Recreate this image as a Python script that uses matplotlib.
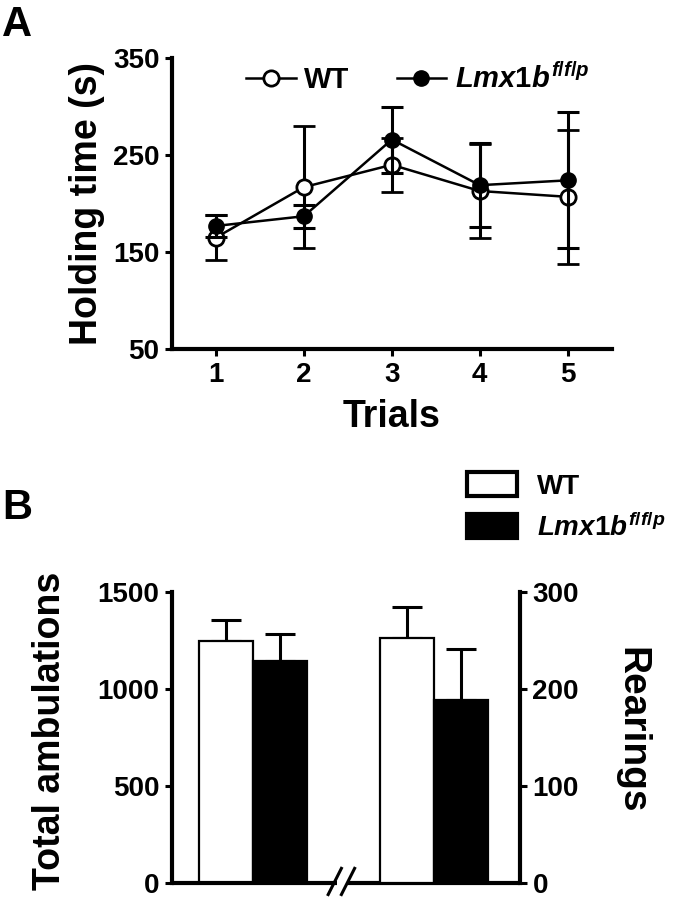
import numpy as np
import matplotlib.pyplot as plt
from matplotlib.patches import Patch
from matplotlib.lines import Line2D

plt.rcParams['font.family'] = ['Liberation Sans', 'DejaVu Sans']
plt.rcParams['font.weight'] = 'bold'
plt.rcParams['mathtext.fontset'] = 'custom'
plt.rcParams['mathtext.rm'] = 'Liberation Sans:bold'
plt.rcParams['mathtext.it'] = 'Liberation Sans:bold:italic'

# Panel A: holding time per trial (mean +/- SEM)
trials = [1, 2, 3, 4, 5]
wt_hold = [165, 217, 240, 213, 207]
wt_hold_err = [23, 63, 28, 48, 69]
ko_hold = [177, 187, 266, 219, 224]
ko_hold_err = [11, 12, 34, 43, 70]

# Panel B: open field
amb_vals = [1250, 1145]      # WT, KO total ambulations
amb_err = [106, 139]
rear_vals = [253, 189]       # WT, KO rearings
rear_err = [32, 52]

ko_label = r'$\mathit{Lmx1b}^{\mathit{f/f/p}}$'
lw_axis = 3.0
tick_fs = 20

fig = plt.figure(figsize=(6.85, 9), dpi=100)

# ---------- A ----------
axA = fig.add_axes([0.251, 0.612, 0.642, 0.3235])
axA.errorbar(trials, wt_hold, yerr=wt_hold_err, fmt='-o', color='black',
             mfc='white', mec='black', mew=2, ms=11, lw=1.8,
             elinewidth=2.2, capsize=8, capthick=2.2, zorder=3)
axA.errorbar(trials, ko_hold, yerr=ko_hold_err, fmt='-o', color='black',
             mfc='black', mec='black', ms=11, lw=1.8,
             elinewidth=2.2, capsize=8, capthick=2.2, zorder=4)
axA.set_xlim(0.5, 5.5)
axA.set_ylim(50, 350)
axA.set_xticks(trials)
axA.set_yticks([50, 150, 250, 350])
axA.set_xlabel('Trials', fontsize=27, fontweight='bold', labelpad=8)
axA.set_ylabel('Holding time (s)', fontsize=27, fontweight='bold', labelpad=6)
for s in ['top', 'right']:
    axA.spines[s].set_visible(False)
for s in ['left', 'bottom']:
    axA.spines[s].set_linewidth(lw_axis)
axA.tick_params(width=2.2, length=5, labelsize=tick_fs, pad=4)

hA = [Line2D([], [], color='black', marker='o', mfc='white', mec='black',
             mew=2, ms=11, lw=1.8),
      Line2D([], [], color='black', marker='o', mfc='black', ms=11, lw=1.8)]
fig.legend(hA, ['WT', ko_label], loc='center', bbox_to_anchor=(0.61, 0.912),
           ncol=2, frameon=False, fontsize=21, handlelength=1.7,
           handletextpad=0.3, columnspacing=1.6)

fig.text(0.003, 0.995, 'A', fontsize=30, fontweight='bold', va='top', ha='left')

# ---------- B ----------
axB = fig.add_axes([0.251, 0.019, 0.508, 0.323])
axB.set_xlim(0, 6.45)
axB.set_ylim(0, 1500)
axB.bar([1, 2], amb_vals, width=1.0, color=['white', 'black'],
        edgecolor='black', linewidth=1.6, zorder=3)
axB.errorbar([1, 2], amb_vals, yerr=[[0, 0], amb_err], fmt='none',
             ecolor='black', elinewidth=2.2, capsize=11, capthick=2.2, zorder=2)

axR = axB.twinx()
axR.set_ylim(0, 300)
axR.bar([4.35, 5.35], rear_vals, width=1.0, color=['white', 'black'],
        edgecolor='black', linewidth=1.6, zorder=3)
axR.errorbar([4.35, 5.35], rear_vals, yerr=[[0, 0], rear_err], fmt='none',
             ecolor='black', elinewidth=2.2, capsize=11, capthick=2.2, zorder=2)

axB.set_xticks([])
axB.set_yticks([0, 500, 1000, 1500])
axR.set_yticks([0, 100, 200, 300])
for a in (axB, axR):
    a.spines['top'].set_visible(False)
    a.spines['bottom'].set_visible(False)
    a.tick_params(width=2.2, length=5, labelsize=tick_fs, pad=4)
axB.spines['right'].set_visible(False)
axR.spines['left'].set_visible(False)
axB.spines['left'].set_linewidth(lw_axis)
axR.spines['right'].set_linewidth(lw_axis)

# broken x axis
axB.plot([0, 0.474], [0, 0], transform=axB.transAxes, color='black',
         lw=lw_axis, clip_on=False, solid_capstyle='butt', zorder=5)
axB.plot([0.503, 1], [0, 0], transform=axB.transAxes, color='black',
         lw=lw_axis, clip_on=False, solid_capstyle='butt', zorder=5)
for x0 in (0.449, 0.487):
    axB.plot([x0, x0 + 0.038], [-0.04, 0.05], transform=axB.transAxes,
             color='black', lw=2.2, clip_on=False, zorder=5)

axB.set_ylabel('Total ambulations', fontsize=27, fontweight='bold')
axB.yaxis.set_label_coords(-0.30, 0.524)
axR.set_ylabel('Rearings', fontsize=28, fontweight='bold', rotation=270,
               va='bottom')
axR.yaxis.set_label_coords(1.27, 0.524)

hB = [Patch(facecolor='white', edgecolor='black', linewidth=3),
      Patch(facecolor='black', edgecolor='black', linewidth=3)]
fig.legend(hB, ['WT', ko_label], loc='upper left', bbox_to_anchor=(0.658, 0.494),
           frameon=False, fontsize=20, handlelength=1.8, handleheight=0.95,
           handletextpad=0.7, labelspacing=0.5, borderaxespad=0.2)

fig.text(0.003, 0.436, 'B', fontsize=30, fontweight='bold', va='center', ha='left')

fig.savefig('out.png', dpi=100)
